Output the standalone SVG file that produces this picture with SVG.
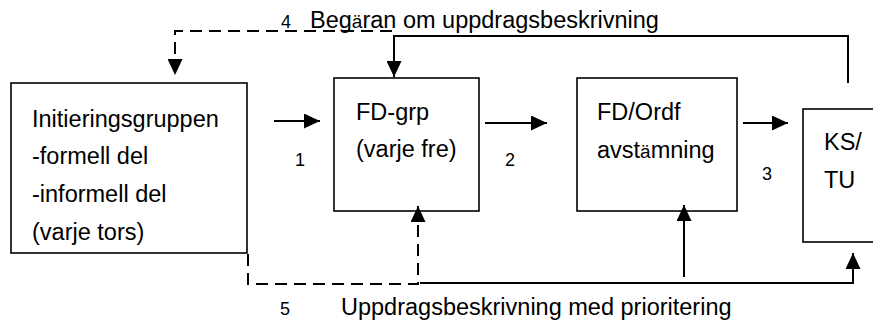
<svg xmlns="http://www.w3.org/2000/svg" width="873" height="322" viewBox="0 0 873 322">
  <style>
    .box { fill: #ffffff; stroke: #000000; stroke-width: 1.6; }
    .txt { font-family: "Liberation Sans", Arial, sans-serif; font-size: 23.5px; fill: #000000; }
    .num { font-family: "Liberation Sans", Arial, sans-serif; font-size: 18px; fill: #000000; }
    .small { font-size: 19px; }
    .line { fill: none; stroke: #000000; stroke-width: 2; }
    .dash { stroke-dasharray: 12 7; }
    .arrow { marker-end: url(#head); }
  </style>
  <defs>
    <marker id="head" markerUnits="userSpaceOnUse" markerWidth="16" markerHeight="15" refX="16" refY="7.5" orient="auto">
      <path d="M0,0 L16,7.5 L0,15 Z" fill="#000000"/>
    </marker>
  </defs>

  <rect width="873" height="322" fill="#ffffff"/>

  <!-- nodes -->
  <g id="initieringsgruppen">
    <rect class="box" x="11" y="83" width="236" height="170"/>
    <text class="txt" x="32" y="127">Initieringsgruppen</text>
    <text class="txt" x="32" y="164">-formell del</text>
    <text class="txt" x="32" y="202">-informell del</text>
    <text class="txt" x="32" y="240">(varje tors)</text>
  </g>

  <g id="fd-grp">
    <rect class="box" x="334" y="78" width="145" height="133"/>
    <text class="txt" x="356" y="120">FD-grp</text>
    <text class="txt" x="356" y="157">(varje fre)</text>
  </g>

  <g id="fd-ordf">
    <rect class="box" x="577" y="78" width="160" height="133"/>
    <text class="txt" x="597" y="120">FD/Ordf</text>
    <text class="txt" x="597" y="158">avst<tspan class="small">ä</tspan>mning</text>
  </g>

  <g id="ks-tu">
    <rect class="box" x="803" y="109" width="90" height="133"/>
    <text class="txt" x="824" y="150">KS/</text>
    <text class="txt" x="824" y="188">TU</text>
  </g>

  <!-- connectors -->
  <g id="connectors">
    <line id="c1" class="line arrow" x1="274" y1="121" x2="320" y2="121"/>
    <line id="c2" class="line arrow" x1="485" y1="123" x2="547" y2="123"/>
    <line id="c3" class="line arrow" x1="743" y1="123" x2="788" y2="123"/>

    <!-- 4: request from KS/TU back to FD-grp and Initieringsgruppen -->
    <polyline id="c4a" class="line arrow" points="848,83 848,36 394,36 394,77"/>
    <polyline id="c4b" class="line dash arrow" points="392,31 175,31 175,75"/>

    <!-- 5: assignment description with priority -->
    <polyline id="c5a" class="line dash arrow" points="248,254 248,284 418,284 418,206"/>
    <polyline id="c5b" class="line arrow" points="420,283 853,283 853,253"/>
    <line id="c5c" class="line arrow" x1="684" y1="277" x2="684" y2="205"/>
  </g>

  <!-- labels -->
  <g id="labels">
    <text class="num" x="281" y="28">4</text>
    <text class="txt" x="310" y="28">Beg<tspan class="small">ä</tspan>ran om uppdragsbeskrivning</text>
    <text class="num" x="295" y="166">1</text>
    <text class="num" x="505" y="166">2</text>
    <text class="num" x="762" y="180">3</text>
    <text class="num" x="280" y="315">5</text>
    <text class="txt" x="341" y="315">Uppdragsbeskrivning med prioritering</text>
  </g>
</svg>
